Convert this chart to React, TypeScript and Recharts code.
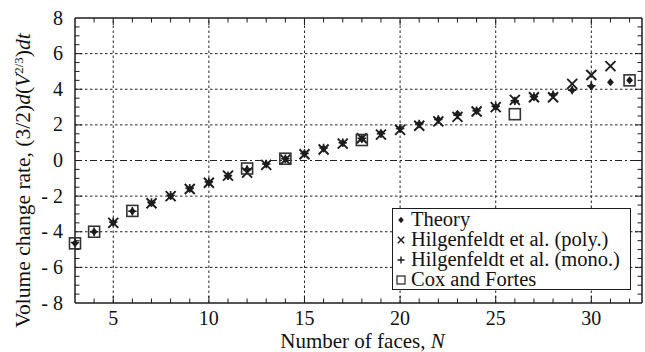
import React from 'react'
import { ScatterChart, Scatter, XAxis, YAxis, ReferenceLine, Legend } from 'recharts'

// number of faces N and the volume change rate
const theoryN = [3, 4, 5, 6, 7, 8, 9, 10, 11, 12, 13, 14, 15, 16, 17, 18, 19, 20, 21, 22, 23, 24, 25, 26, 27, 28, 29, 30, 31, 32]
const theoryRate = [-4.65, -4.0, -3.5, -2.85, -2.4, -2.0, -1.6, -1.25, -0.88, -0.5, -0.2, 0.1, 0.4, 0.68, 1.0, 1.2, 1.55, 1.8, 2.05, 2.3, 2.62, 2.8, 3.0, 3.35, 3.55, 3.68, 3.95, 4.15, 4.4, 4.5]

const polyN = [5, 7, 8, 9, 10, 11, 12, 13, 14, 15, 16, 17, 18, 19, 20, 21, 22, 23, 24, 25, 26, 27, 28, 29, 30, 31]
const polyRate = [-3.5, -2.4, -2.0, -1.6, -1.25, -0.85, -0.68, -0.25, 0.05, 0.35, 0.62, 0.95, 1.25, 1.45, 1.72, 1.95, 2.2, 2.45, 2.75, 3.0, 3.4, 3.55, 3.55, 4.3, 4.8, 5.3]

const monoN = [3, 4, 5, 6, 7, 8, 9, 10, 11, 12, 13, 14, 15, 16, 17, 18, 19, 20, 21, 22, 23, 24, 25, 26, 27, 28, 29, 30]
const monoRate = [-4.6, -4.0, -3.45, -2.85, -2.35, -1.95, -1.55, -1.2, -0.85, -0.5, -0.2, 0.1, 0.4, 0.7, 1.0, 1.25, 1.5, 1.8, 2.05, 2.3, 2.55, 2.8, 3.05, 3.35, 3.6, 3.7, 3.95, 4.2]

const coxN = [3, 4, 6, 12, 14, 18, 26, 32]
const coxRate = [-4.65, -4.0, -2.83, -0.45, 0.1, 1.15, 2.6, 4.5]

const xTicks = [5, 10, 15, 20, 25, 30]
const yTicks = [-8, -6, -4, -2, 0, 2, 4, 6, 8]
const xMinorTicks = [4, 5, 6, 7, 8, 9, 10, 11, 12, 13, 14, 15, 16, 17, 18, 19, 20, 21, 22, 23, 24, 25, 26, 27, 28, 29, 30, 31, 32]
const yMinorTicks = [-7.5, -7, -6.5, -6, -5.5, -5, -4.5, -4, -3.5, -3, -2.5, -2, -1.5, -1, -0.5, 0, 0.5, 1, 1.5, 2, 2.5, 3, 3.5, 4, 4.5, 5, 5.5, 6, 6.5, 7, 7.5]

const X_MIN = 3
const X_MAX = 32.65
const Y_MIN = -8
const Y_MAX = 8

const W = 645
const H = 352
const MARGIN = { top: 18, right: 3, left: 20, bottom: 19 }
const Y_AXIS_W = 55
const X_AXIS_H = 30

const INK = '#1c1c1c'
const FONT = "'Liberation Serif', 'Times New Roman', Times, 'DejaVu Serif', serif"

// pixels per data unit, used to turn tick lengths into data units
const PX_X = (W - MARGIN.left - Y_AXIS_W - MARGIN.right) / (X_MAX - X_MIN)
const PX_Y = (H - MARGIN.top - MARGIN.bottom - X_AXIS_H) / (Y_MAX - Y_MIN)
const TICK_MINOR = 4.5
const TICK_MAJOR = 7

const toPoints = (xs: number[], ys: number[]) => xs.map((x, i) => ({ x, y: ys[i] }))

const Diamond = ({ cx, cy, r = 4 }: any) => (
  <path d={`M${cx},${cy - r}L${cx + r * 0.85},${cy}L${cx},${cy + r}L${cx - r * 0.85},${cy}Z`} fill={INK} />
)
const Cross = ({ cx, cy, r = 5, w = 1.9 }: any) => (
  <path d={`M${cx - r},${cy - r}L${cx + r},${cy + r}M${cx - r},${cy + r}L${cx + r},${cy - r}`} stroke={INK} strokeWidth={w} fill="none" />
)
const Plus = ({ cx, cy, r = 4.2, w = 1.6 }: any) => (
  <path d={`M${cx - r},${cy}L${cx + r},${cy}M${cx},${cy - r}L${cx},${cy + r}`} stroke={INK} strokeWidth={w} fill="none" />
)
const Square = ({ cx, cy, r = 5.5, w = 1.6 }: any) => (
  <rect x={cx - r} y={cy - r} width={2 * r} height={2 * r} stroke="#333" strokeWidth={w} fill="none" />
)

const legendItems = [
  { name: 'Theory', mark: (c: number) => <Diamond cx={c} cy={c} r={3.2} /> },
  { name: 'Hilgenfeldt et al. (poly.)', mark: (c: number) => <Cross cx={c} cy={c} r={3.2} w={1.4} /> },
  { name: 'Hilgenfeldt et al. (mono.)', mark: (c: number) => <Plus cx={c} cy={c} r={3.5} w={1.4} /> },
  { name: 'Cox and Fortes', mark: (c: number) => <Square cx={c} cy={c} r={4} w={1.3} /> },
]

const LegendBox = () => (
  <div
    style={{
      border: `1.5px solid ${INK}`,
      background: '#fff',
      fontFamily: FONT,
      fontSize: 20.5,
      lineHeight: '20px',
      padding: '0 0 0 2px',
      width: 235,
      height: 80,
      boxSizing: 'content-box',
      color: '#111',
      whiteSpace: 'nowrap',
    }}
  >
    {legendItems.map((it) => (
      <div key={it.name} style={{ display: 'flex', alignItems: 'center', height: 20 }}>
        <svg width={12} height={12} style={{ marginRight: 4, marginTop: 2 }}>
          {it.mark(6)}
        </svg>
        <span>{it.name}</span>
      </div>
    ))}
  </div>
)

const XTick = ({ x, y, payload }: any) => (
  <text x={x} y={y + 22} textAnchor="middle" style={{ fontFamily: FONT }} fontSize={20} fill="#111">
    {payload.value}
  </text>
)

const YTick = ({ x, y, payload }: any) => (
  <text x={x - 12} y={y + 6.5} textAnchor="end" style={{ fontFamily: FONT }} fontSize={20} fill="#111">
    {payload.value < 0 ? `- ${Math.abs(payload.value)}` : payload.value}
  </text>
)

const YTitle = ({ viewBox }: any) => {
  const cx = 30
  const cy = viewBox.y + viewBox.height / 2 + 20
  return (
    <text
      x={cx}
      y={cy}
      transform={`rotate(-90 ${cx} ${cy})`}
      textAnchor="middle"
      style={{ fontFamily: FONT }}
      fontSize={21.5}
      fill="#111"
    >
      Volume change rate, (3/2)<tspan fontStyle="italic">d</tspan>(<tspan fontStyle="italic">V</tspan>
      <tspan dy={-7} fontSize={13}>2/3</tspan>
      <tspan dy={7}>)</tspan>
      <tspan fontStyle="italic">dt</tspan>
    </text>
  )
}

const XTitle = ({ viewBox }: any) => (
  <text
    x={viewBox.x + viewBox.width / 2 + 4}
    y={viewBox.y + 45}
    textAnchor="middle"
    style={{ fontFamily: FONT }}
    fontSize={21}
    fill="#111"
  >
    Number of faces, <tspan fontStyle="italic">N</tspan>
  </text>
)

const gridDash = '2.5 2.5'

export default function App() {
  const tickLines: React.ReactNode[] = []
  xMinorTicks.forEach((v) => {
    const len = (v % 5 === 0 ? TICK_MAJOR : TICK_MINOR) / PX_Y
    tickLines.push(
      <ReferenceLine key={`xb${v}`} ifOverflow="visible" stroke={INK} strokeWidth={1}
        segment={[{ x: v, y: Y_MIN }, { x: v, y: Y_MIN + len }]} />,
      <ReferenceLine key={`xt${v}`} ifOverflow="visible" stroke={INK} strokeWidth={1}
        segment={[{ x: v, y: Y_MAX }, { x: v, y: Y_MAX - len }]} />
    )
  })
  yMinorTicks.forEach((v) => {
    const len = (v % 2 === 0 ? TICK_MAJOR : TICK_MINOR) / PX_X
    tickLines.push(
      <ReferenceLine key={`yl${v}`} ifOverflow="visible" stroke={INK} strokeWidth={1}
        segment={[{ x: X_MIN, y: v }, { x: X_MIN + len, y: v }]} />,
      <ReferenceLine key={`yr${v}`} ifOverflow="visible" stroke={INK} strokeWidth={1}
        segment={[{ x: X_MAX, y: v }, { x: X_MAX - len, y: v }]} />
    )
  })

  return (
    <div style={{ position: 'absolute', left: 0, top: 0, width: W, height: H, background: '#fff', fontFamily: FONT }}>
      <ScatterChart width={W} height={H} margin={MARGIN} style={{ fontFamily: FONT }}>
        <XAxis
          type="number"
          dataKey="x"
          domain={[X_MIN, X_MAX]}
          ticks={xTicks}
          height={X_AXIS_H}
          tick={<XTick />}
          tickLine={false}
          tickSize={0}
          tickMargin={0}
          axisLine={{ stroke: INK, strokeWidth: 1.5 }}
          label={<XTitle />}
        />
        <YAxis
          type="number"
          dataKey="y"
          domain={[Y_MIN, Y_MAX]}
          ticks={yTicks}
          width={Y_AXIS_W}
          tick={<YTick />}
          tickLine={false}
          tickSize={0}
          tickMargin={0}
          axisLine={{ stroke: INK, strokeWidth: 1.5 }}
          label={<YTitle />}
        />
        {xTicks.map((v) => (
          <ReferenceLine key={`gx${v}`} x={v} stroke="#222" strokeDasharray={gridDash} />
        ))}
        {yTicks.filter((v) => v !== 0 && Math.abs(v) !== 8).map((v) => (
          <ReferenceLine key={`gy${v}`} y={v} stroke="#222" strokeDasharray={gridDash} />
        ))}
        <ReferenceLine y={0} stroke="#222" strokeDasharray="7 3 2 3" />
        <ReferenceLine y={Y_MAX} stroke={INK} strokeWidth={1.5} ifOverflow="visible" />
        <ReferenceLine x={X_MAX} stroke={INK} strokeWidth={1.5} ifOverflow="visible" />
        {tickLines}
        <Scatter name="Theory" data={toPoints(theoryN, theoryRate)} isAnimationActive={false}
          shape={(p: any) => <Diamond cx={p.cx} cy={p.cy} />} />
        <Scatter name="Hilgenfeldt et al. (poly.)" data={toPoints(polyN, polyRate)} isAnimationActive={false}
          shape={(p: any) => <Cross cx={p.cx} cy={p.cy} />} />
        <Scatter name="Hilgenfeldt et al. (mono.)" data={toPoints(monoN, monoRate)} isAnimationActive={false}
          shape={(p: any) => <Plus cx={p.cx} cy={p.cy} />} />
        <Scatter name="Cox and Fortes" data={toPoints(coxN, coxRate)} isAnimationActive={false}
          shape={(p: any) => <Square cx={p.cx} cy={p.cy} />} />
        <Legend
          layout="vertical"
          align="center"
          verticalAlign="middle"
          content={() => <LegendBox />}
          wrapperStyle={{ left: 392, top: 208, width: 240, height: 83 }}
        />
      </ScatterChart>
    </div>
  )
}
